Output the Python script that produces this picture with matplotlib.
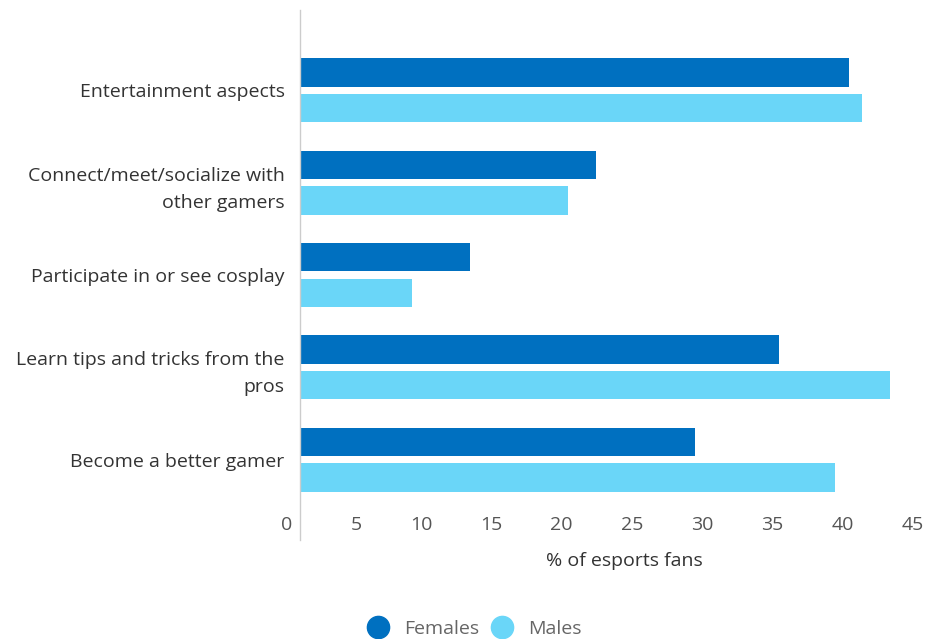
import matplotlib.pyplot as plt
import matplotlib.transforms as mtransforms
from matplotlib.lines import Line2D
import numpy as np

plt.rcParams['font.family'] = ['Open Sans', 'DejaVu Sans']

# data
categories = ['Entertainment aspects',
              'Connect/meet/socialize with\nother gamers',
              'Participate in or see cosplay',
              'Learn tips and tricks from the\npros',
              'Become a better gamer']
females = [39.1, 21.1, 12.1, 34.1, 28.1]
males = [40.0, 19.1, 8.0, 42.0, 38.1]
x_ticks = [0, 5, 10, 15, 20, 25, 30, 35, 40, 45]

col_f = '#0070C0'
col_m = '#6AD6F8'
fs = 14

W, H = 932, 639
fig = plt.figure(figsize=(W / 100, H / 100), dpi=100)
ax = fig.add_axes([300 / W, (H - 540) / H, 632 / W, 530 / H])

y = np.arange(len(categories))
off = 0.193
h = 0.305
ax.barh(y - off, females, height=h, color=col_f, label='Females')
ax.barh(y + off, males, height=h, color=col_m, label='Males')

ax.set_xlim(0, 45)
ax.set_ylim(len(categories) - 1 + 0.87, -0.87)

for s in ['top', 'right', 'bottom']:
    ax.spines[s].set_visible(False)
ax.spines['left'].set_color('#cccccc')
ax.spines['left'].set_linewidth(1)

ax.set_yticks(y)
ax.set_yticklabels(categories, fontsize=fs, color='#333333', linespacing=1.65)
ax.tick_params(axis='y', length=0, pad=11)
ax.set_xticks([])

# x tick labels sit inside the axis extent, shifted left of the tick
trans = mtransforms.blended_transform_factory(ax.transData, ax.transAxes)
shift = mtransforms.ScaledTranslation(-8 / 100, 0, fig.dpi_scale_trans)
for t in x_ticks:
    ax.text(t, 15 / 530, str(t), transform=trans + shift, ha='right', va='center',
            fontsize=fs, color='#555555')

fig.text(624 / W, 1 - 561 / H, '% of esports fans', ha='center', va='center',
         fontsize=fs, color='#333333')

handles = [Line2D([], [], marker='o', linestyle='', markersize=16, color=col_f),
           Line2D([], [], marker='o', linestyle='', markersize=16, color=col_m)]
fig.legend(handles, ['Females', 'Males'], loc='center', bbox_to_anchor=(474 / W, 1 - 629 / H),
           ncol=2, frameon=False, fontsize=fs, labelcolor='#666666',
           handletextpad=0.75, columnspacing=0.6, handlelength=1.2)

fig.savefig('out.png', dpi=100)
